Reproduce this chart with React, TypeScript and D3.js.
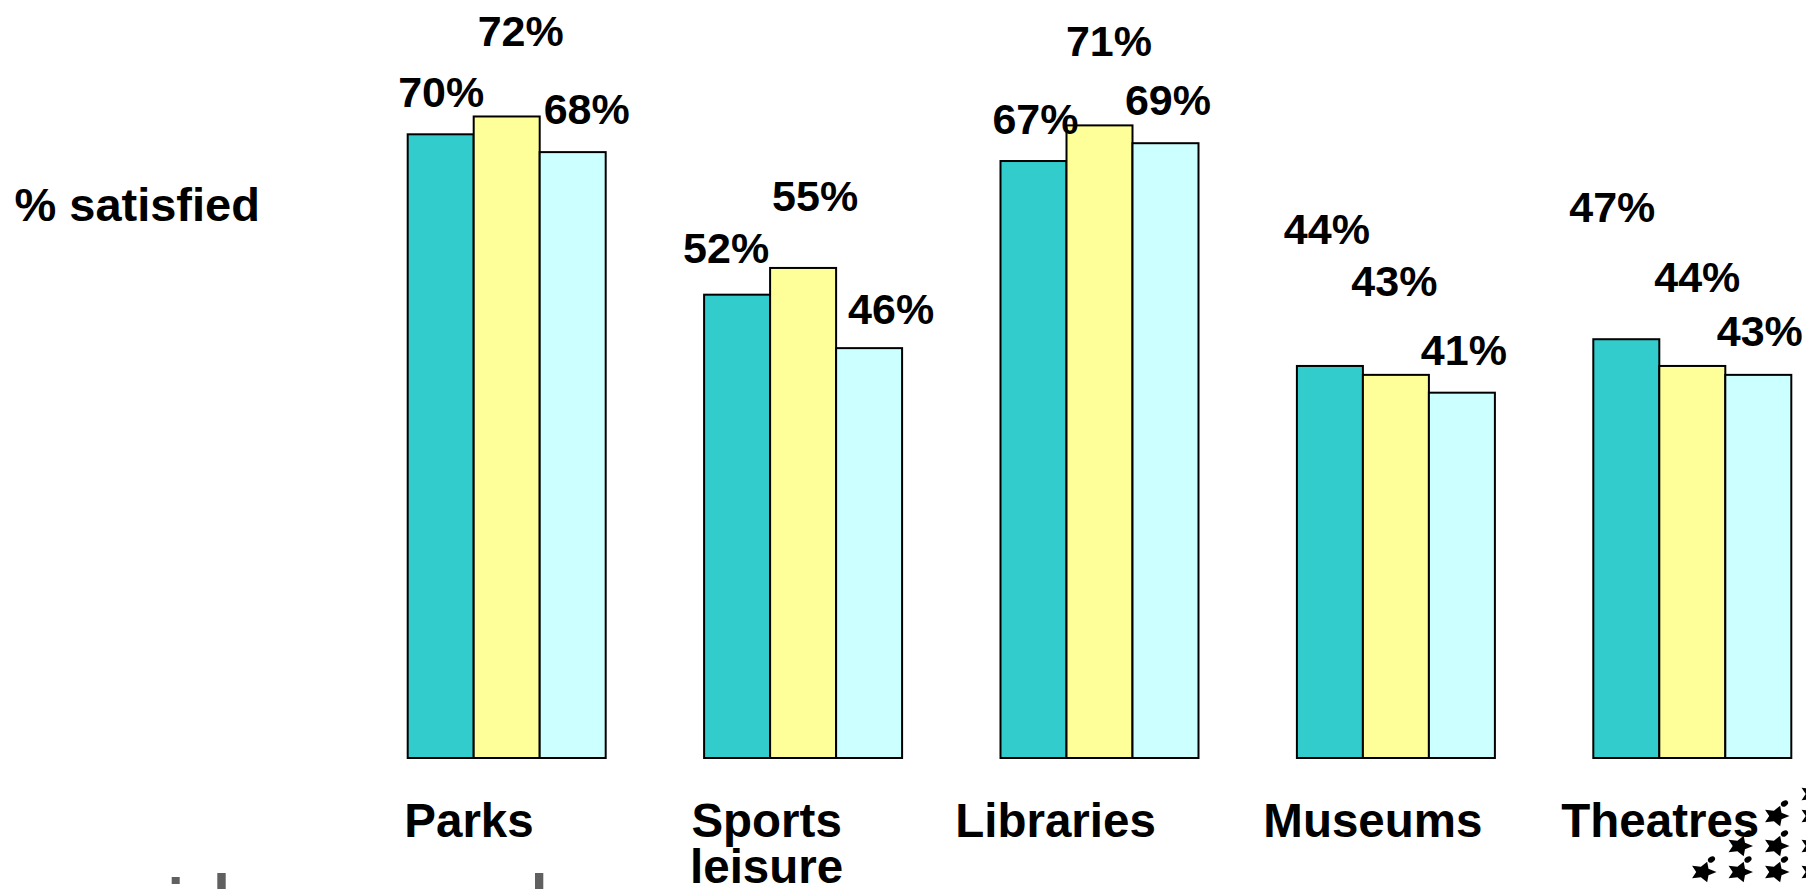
import { useMemo } from 'react'
import * as d3 from "d3";

// data
const categories = ["Parks", "Sports leisure", "Libraries", "Museums", "Theatres"];
const series = ["s1", "s2", "s3"];
const seriesColors = ["#33CCCC", "#FFFF99", "#CCFFFF"];
const parks = [70, 72, 68];
const sports = [52, 55, 46];
const libraries = [67, 71, 69];
const museums = [44, 43, 41];
const theatres = [47, 44, 43];
const values = [parks, sports, libraries, museums, theatres];

// label nudges [dx, lift above bar top] - the original places them by hand
const labelNudges = [
  [[0.5, 27.6], [14, 70.6], [14, 27.7]],
  [[-11, 32], [12, 56.7], [22, 23.7]],
  [[2, 27.4], [9.5, 69.7], [2.5, 28]],
  [[-3, 122.4], [-1.5, 79.3], [2, 27.7]],
  [[-14, 117.3], [5, 74], [1.5, 28.6]],
];
const categoryNudges = [-37.7, -36.5, -44, -23, -32];

// little people logo, grid [col, row]
const logoCells = [
  [3, 0],
  [2, 1], [3, 1],
  [1, 2], [2, 2], [3, 2],
  [0, 3], [1, 3], [2, 3], [3, 3],
];
const logoRows = [794, 816, 846, 872];

const FONT = "'Liberation Sans', Arial, Helvetica, sans-serif";

// person body: a chunky five point star, tilted so the top point leans right
function personPath() {
  const outer = 13.5;
  const inner = 6.8;
  const tilt = (18 * Math.PI) / 180;
  const pts: [number, number][] = d3.range(10).map(i => {
    const a = -Math.PI / 2 + tilt + (i * Math.PI) / 5;
    const r = i % 2 === 0 ? outer : inner;
    return [Math.cos(a) * r, Math.sin(a) * r * 0.8];
  });
  return d3.line()(pts) + "Z";
}

function App() {
  const width = 1806;
  const height = 889;
  const baseline = 758;

  const y = d3.scaleLinear([0, 100], [baseline, baseline - 891]);
  const x0 = d3.scaleBand(categories, [407.7, 1791.3]).paddingInner(0.332).paddingOuter(0);
  const x1 = d3.scaleBand(series, [0, x0.bandwidth()]);

  const body = useMemo(() => personPath(), []);

  return (
    <svg
      width={width}
      height={height}
      style={{ position: "fixed", left: 0, top: 0, background: "white" }}
      fontFamily={FONT}
      fontWeight="bold"
    >
      <text x={14.4} y={220.7} fontSize={47}>% satisfied</text>

      {/* bars */}
      {categories.map((cat, ci) => (
        <g key={cat} transform={`translate(${x0(cat)},0)`}>
          {series.map((s, si) => {
            const v = values[ci][si];
            return (
              <rect
                key={s}
                x={x1(s)}
                y={y(v)}
                width={x1.bandwidth()}
                height={y(0) - y(v)}
                fill={seriesColors[si]}
                stroke="#000"
                strokeWidth={2}
              />
            );
          })}
        </g>
      ))}

      {/* value labels */}
      {categories.map((cat, ci) =>
        series.map((s, si) => {
          const v = values[ci][si];
          const [dx, lift] = labelNudges[ci][si];
          return (
            <text
              key={`${cat}-${s}`}
              x={(x0(cat) ?? 0) + (x1(s) ?? 0) + x1.bandwidth() / 2 + dx}
              y={y(v) - lift}
              textAnchor="middle"
              fontSize={43}
            >
              {`${v}%`}
            </text>
          );
        })
      )}

      {/* category labels */}
      {categories.map((cat, ci) => {
        const cx = (x0(cat) ?? 0) + x0.bandwidth() / 2 + categoryNudges[ci];
        const lines = cat === "Sports leisure" ? ["Sports", "leisure"] : [cat];
        return (
          <text key={cat} x={cx} y={837} textAnchor="middle" fontSize={47.5}>
            {lines.map((l, i) => (
              <tspan key={l} x={cx} dy={i === 0 ? 0 : 46}>{l}</tspan>
            ))}
          </text>
        );
      })}

      {/* logo figures */}
      {logoCells.map(([c, r], i) => (
        <g key={i} transform={`translate(${1703 + c * 36.5},${logoRows[r]})`}>
          <path d={body} fill="#000" />
          <ellipse cx={8.5} cy={-12.5} rx={3.8} ry={2.8} transform="rotate(-30 8.5 -12.5)" fill="#000" />
        </g>
      ))}

      {/* cut-off grey text at the bottom edge */}
      <g fill="#606060">
        <rect x={171.7} y={877} width={8} height={7} />
        <rect x={217.3} y={873} width={8.4} height={20} />
        <rect x={535} y={873} width={8.3} height={20} />
      </g>
    </svg>
  );
}

export default App;
